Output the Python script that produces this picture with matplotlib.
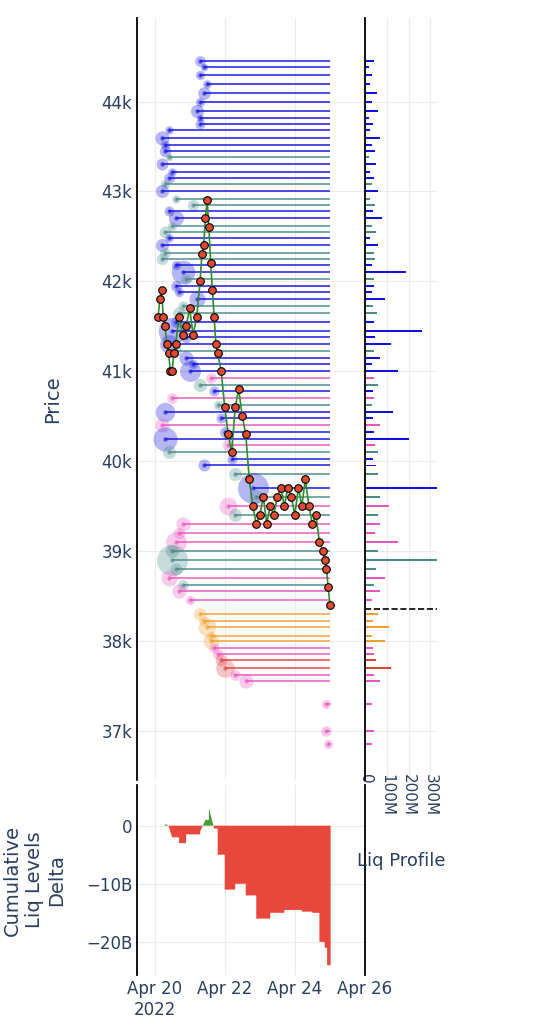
import numpy as np
import matplotlib.pyplot as plt
from matplotlib.ticker import FuncFormatter

# ── data (days in April 2022, prices in k USD) ────────────────────────────────
price_t = [20.1, 20.15, 20.2, 20.25, 20.3, 20.35, 20.4, 20.45, 20.5, 20.55, 20.6, 20.7,
           20.8, 20.9, 21.0, 21.1, 21.2, 21.3, 21.35, 21.4, 21.45, 21.5, 21.55, 21.6,
           21.65, 21.7, 21.75, 21.8, 21.9, 22.0, 22.1, 22.2, 22.3, 22.4, 22.5, 22.6,
           22.7, 22.8, 22.9, 23.0, 23.1, 23.2, 23.3, 23.4, 23.5, 23.6, 23.7, 23.8,
           23.9, 24.0, 24.1, 24.2, 24.3, 24.4, 24.5, 24.6, 24.7, 24.8, 24.85, 24.9,
           24.95, 25.0]
price_v = [41.6, 41.8, 41.9, 41.6, 41.5, 41.3, 41.2, 41.0, 41.0, 41.2, 41.3, 41.6,
           41.4, 41.5, 41.7, 41.4, 41.6, 42.0, 42.3, 42.4, 42.7, 42.9, 42.6, 42.2,
           41.9, 41.6, 41.3, 41.2, 41.0, 40.6, 40.3, 40.1, 40.6, 40.8, 40.5, 40.3,
           39.8, 39.5, 39.3, 39.4, 39.6, 39.3, 39.5, 39.4, 39.6, 39.7, 39.5, 39.7,
           39.6, 39.4, 39.7, 39.5, 39.8, 39.5, 39.3, 39.4, 39.1, 39.0, 38.9, 38.8,
           38.6, 38.4]

lvl_price = [44.45, 44.38, 44.3, 44.2, 44.1, 44.0, 43.9, 43.82, 43.75, 43.68, 43.6,
             43.52, 43.45, 43.38, 43.3, 43.22, 43.15, 43.08, 43.0, 42.92, 42.85, 42.78,
             42.7, 42.62, 42.55, 42.48, 42.4, 42.32, 42.25, 42.18, 42.1, 42.02, 41.95,
             41.88, 41.8, 41.72, 41.65, 41.55, 41.45, 41.38, 41.3, 41.22, 41.15, 41.08,
             41.0, 40.92, 40.85, 40.78, 40.7, 40.62, 40.55, 40.48, 40.4, 40.32, 40.25,
             40.18, 40.1, 40.02, 39.95, 39.85, 39.7, 39.6, 39.5, 39.4, 39.3, 39.2,
             39.1, 39.0, 38.9, 38.8, 38.7, 38.62, 38.55, 38.45, 38.3, 38.22, 38.15,
             38.05, 38.0, 37.92, 37.85, 37.78, 37.7, 37.62, 37.55, 37.3, 37.0, 36.85]
lvl_start = [21.3, 21.4, 21.3, 21.5, 21.4, 21.3, 21.2, 21.3, 21.3, 20.4, 20.2,
             20.3, 20.3, 20.4, 20.2, 20.5, 20.4, 20.3, 20.2, 20.6, 21.1, 20.4,
             20.6, 20.5, 20.3, 20.4, 20.2, 20.3, 20.2, 20.6, 20.8, 20.9, 20.6,
             20.7, 21.2, 20.8, 20.7, 20.6, 20.5, 20.9, 20.4, 20.6, 20.9, 21.1,
             21.0, 21.6, 21.3, 21.7, 20.5, 21.8, 20.3, 21.9, 20.2, 22.0, 20.3,
             22.1, 20.4, 22.2, 21.4, 22.3, 22.8, 22.9, 22.1, 22.3, 20.8, 20.7,
             20.6, 20.5, 20.5, 20.6, 20.4, 20.8, 20.7, 21.0, 21.3, 21.4, 21.5,
             21.6, 21.6, 21.7, 21.8, 21.9, 22.0, 22.3, 22.6, 24.9, 24.9, 24.95]
lvl_size = [40, 20, 30, 25, 55, 30, 60, 20, 35, 25, 70,
            30, 45, 20, 50, 25, 40, 30, 60, 25, 45, 35,
            80, 30, 50, 25, 60, 40, 45, 30, 190, 40, 40,
            30, 90, 35, 55, 40, 260, 45, 120, 40, 70, 30,
            150, 40, 60, 35, 40, 30, 130, 35, 70, 40, 200,
            45, 60, 35, 50, 60, 330, 70, 110, 60, 70, 45,
            150, 60, 330, 50, 90, 40, 70, 30, 60, 35, 110,
            30, 90, 35, 40, 50, 120, 40, 70, 30, 40, 30]
lvl_cat = ["b", "b", "b", "b", "b", "b", "b", "b", "b", "b", "b",
           "b", "b", "t", "b", "b", "b", "t", "b", "t", "t", "b",
           "b", "t", "t", "b", "b", "t", "t", "b", "b", "t", "b",
           "b", "b", "t", "t", "b", "b", "b", "b", "t", "b", "b",
           "b", "p", "t", "b", "p", "t", "b", "b", "p", "b", "b",
           "p", "t", "b", "b", "t", "b", "t", "p", "t", "p", "p",
           "p", "t", "t", "t", "p", "t", "p", "p", "o", "o", "o",
           "o", "o", "p", "p", "r", "r", "p", "p", "p", "p", "p"]

delta_t = [20.3, 20.4, 20.5, 20.7, 20.9, 21.3, 21.45, 21.55, 21.7, 21.8, 22.0,
           22.3, 22.6, 22.9, 23.3, 23.7, 24.2, 24.5, 24.7, 24.85, 24.92, 25.02]
delta_v = [0.3, 0.0, -2.0, -3.0, -1.5, -1.0, 1.0, 3.0, -0.5, -5.0, -11.0,
           -10.0, -12.0, -16.0, -15.0, -14.5, -14.8, -15.0, -20.0, -21.0, -24.0, -24.0]

current_price = 38.35
# ───────────────────────────────────────────────────────────────────────────────

COLORS = {"b": "#1010e0", "t": "#4a8a8a", "p": "#e855c0", "o": "#f0a030", "r": "#e04040"}
TXT = "#2a3f5f"
plt.rcParams["font.family"] = "DejaVu Sans"

W, H = 538, 1024
fig = plt.figure(figsize=(W / 100, H / 100), dpi=100)


def box(x0, y0, x1, y1):
    return [x0 / W, 1 - y1 / H, (x1 - x0) / W, (y1 - y0) / H]


ax = fig.add_axes(box(137, 18, 365, 780))
axp = fig.add_axes(box(365, 18, 437, 780), sharey=ax)
axd = fig.add_axes(box(137, 785, 365, 975), sharex=ax)

end_t = 25.0
for p, s, sz, c in zip(lvl_price, lvl_start, lvl_size, lvl_cat):
    col = COLORS[c]
    ax.hlines(p, s, end_t, color=col, lw=1.4, alpha=0.75, zorder=1)
    ax.scatter([s], [p], s=sz * 1.5, color=col, alpha=0.3, lw=0, zorder=1)
    ax.scatter([s], [p], s=10, color=col, alpha=0.6, lw=0, zorder=1)
    axp.barh(p, sz, height=0.022, color=col, zorder=2)

ax.plot(price_t, price_v, color="#2e8b2e", lw=1.2, zorder=3)
ax.scatter(price_t, price_v, s=30, color="#e04a30", edgecolor="black", lw=0.8, zorder=4)

ax.set_ylim(36.45, 44.93)
ax.set_xlim(19.5, 26.0)
ax.set_yticks([37, 38, 39, 40, 41, 42, 43, 44])
ax.yaxis.set_major_formatter(FuncFormatter(lambda v, _: f"{v:.0f}k"))
ax.set_ylabel("Price", color=TXT, fontsize=14, labelpad=28)
ax.tick_params(axis="x", bottom=False, labelbottom=False)

axp.axhline(current_price, color="black", ls="--", lw=1.2)
axp.set_xlim(0, 330)
axp.set_xticks([0, 100, 200, 300])
axp.xaxis.set_major_formatter(FuncFormatter(lambda v, _: "0" if v == 0 else f"{v:.0f}M"))
axp.tick_params(axis="x", labelrotation=-90, colors=TXT, length=0, pad=-4)
axp.tick_params(axis="y", left=False, labelleft=False)
fig.text(401 / W, 1 - 861 / H, "Liq Profile", color=TXT, fontsize=13, ha="center", va="center")

dt = np.array(delta_t)
dv = np.array(delta_v)
axd.fill_between(dt, dv, 0, where=dv < 0, step="post", color="#e8483c", lw=0, interpolate=True)
axd.fill_between(dt, dv, 0, where=dv > 0, step="post", color="#4a9a3a", lw=0, interpolate=True)
axd.set_ylim(-25.7, 7)
axd.set_yticks([0, -10, -20])
axd.set_yticklabels(["0", "−10B", "−20B"])
axd.set_xticks([20, 22, 24, 26])
axd.set_xticklabels(["Apr 20\n2022", "Apr 22", "Apr 24", "Apr 26"])
axd.set_ylabel("Cumulative\nLiq Levels\nDelta", color=TXT, fontsize=14, labelpad=14)

for a in (ax, axp, axd):
    a.set_facecolor("white")
    a.grid(color="#ebebeb", lw=0.8, zorder=0)
    a.set_axisbelow(True)
    for side in ("top", "right", "bottom"):
        a.spines[side].set_visible(False)
    a.spines["left"].set_color("black")
    a.spines["left"].set_linewidth(1.3)
    a.tick_params(colors=TXT, labelsize=12, length=0)
axp.tick_params(axis="x", labelsize=11)
axd.patch.set_alpha(0)
axd.spines["right"].set_visible(True)
axd.spines["right"].set_color("black")
axd.spines["right"].set_linewidth(1.3)

fig.savefig("out.png", dpi=100, facecolor="white")
